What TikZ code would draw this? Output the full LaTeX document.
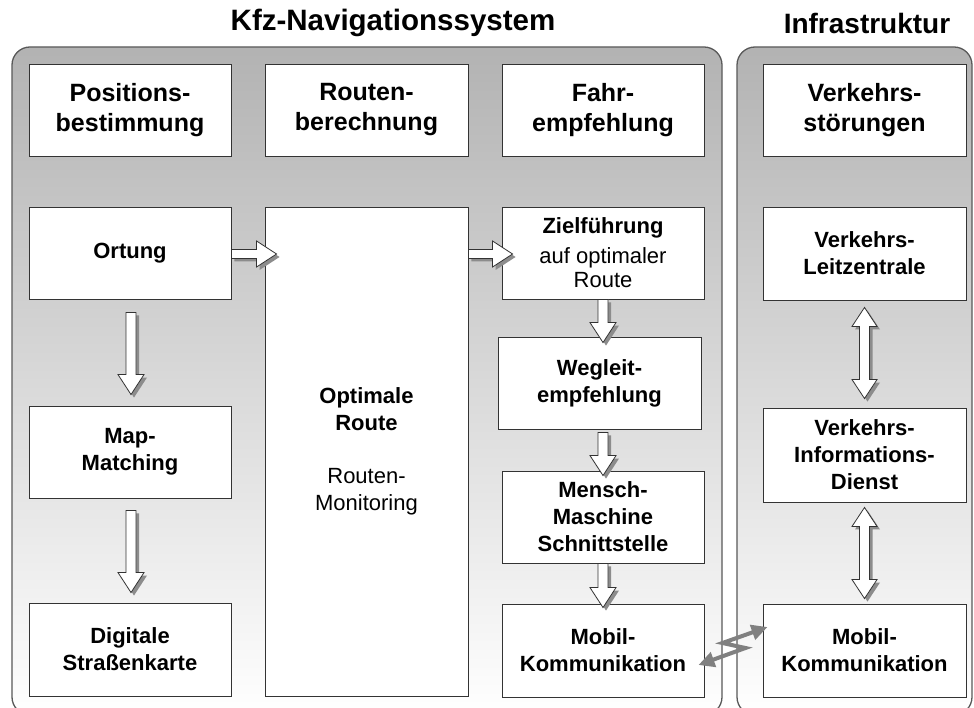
\documentclass[tikz,border=0pt]{standalone}
\usepackage{fontspec}
\setmainfont{Liberation Sans}
\usetikzlibrary{calc,arrows.meta}
\tikzset{
  panel/.style={draw=black!65, line width=1.3pt, rounded corners=18pt, top color=gray!60, bottom color=white},
  box/.style={draw=black!80, line width=0.9pt, fill=white, inner sep=0pt, align=center},
  hbox/.style={box, font=\fontsize{25}{30}\selectfont\bfseries},
  bbox/.style={box, font=\fontsize{22}{27}\selectfont\bfseries},
  ttl/.style={font=\fontsize{28}{34}\selectfont\bfseries},
  shd/.style={fill=black!45},
  arw/.style={fill=white, draw=black!80, line width=0.8pt},
  bolt/.style={draw=black!50, line width=4pt, {Triangle[length=16pt,width=15pt]}-{Triangle[length=16pt,width=15pt]}}
}
% single down arrow: #1 shaft top, #2 tip
\newcommand\dnarrow[2]{%
  \foreach \s/\o in {shd/3pt, arw/0pt}{%
    \path[\s] let \p1=(#1), \p2=(#2) in
      (\x1-5pt+\o,\y1-\o) -- (\x1+5pt+\o,\y1-\o) -- (\x1+5pt+\o,\y2+20pt-\o) --
      (\x1+13pt+\o,\y2+20pt-\o) -- (\x1+\o,\y2-\o) -- (\x1-13pt+\o,\y2+20pt-\o) --
      (\x1-5pt+\o,\y2+20pt-\o) -- cycle;
  }}
% single right arrow: #1 shaft start, #2 tip
\newcommand\rtarrow[2]{%
  \foreach \s/\o in {shd/3pt, arw/0pt}{%
    \path[\s] let \p1=(#1), \p2=(#2) in
      (\x1+\o,\y1+4.5pt-\o) -- (\x2-20pt+\o,\y1+4.5pt-\o) -- (\x2-20pt+\o,\y1+13pt-\o) --
      (\x2+\o,\y1-\o) -- (\x2-20pt+\o,\y1-13pt-\o) -- (\x2-20pt+\o,\y1-4.5pt-\o) --
      (\x1+\o,\y1-4.5pt-\o) -- cycle;
  }}
% double vertical arrow: #1 top tip, #2 bottom tip
\newcommand\dvarrow[2]{%
  \foreach \s/\o in {shd/3pt, arw/0pt}{%
    \path[\s] let \p1=(#1), \p2=(#2) in
      (\x1+\o,\y1-\o) -- (\x1+12.5pt+\o,\y1-19pt-\o) -- (\x1+5pt+\o,\y1-19pt-\o) --
      (\x1+5pt+\o,\y2+19pt-\o) -- (\x1+12.5pt+\o,\y2+19pt-\o) -- (\x1+\o,\y2-\o) --
      (\x1-12.5pt+\o,\y2+19pt-\o) -- (\x1-5pt+\o,\y2+19pt-\o) -- (\x1-5pt+\o,\y1-19pt-\o) --
      (\x1-12.5pt+\o,\y1-19pt-\o) -- cycle;
  }}
\begin{document}
\begin{tikzpicture}[x=1pt,y=-1pt]
\useasboundingbox (0,0) rectangle (974,708);
\clip (0,0) rectangle (974,708);
\fill[white] (0,0) rectangle (974,708);

% panels
\path[panel] (12,47) rectangle (722,715);
\path[panel] (737,47) rectangle (972,715);

% titles
\node[ttl, font=\fontsize{29.5}{34}\selectfont\bfseries] (t1) at (393,23) {Kfz-Navigationssystem};
\node[ttl] (t2) at (867,23) {Infrastruktur};

% header row
\node[hbox, minimum width=202pt, minimum height=92pt] (h1) at (130,110) {Positions-\\bestimmung};
\node[hbox, minimum width=203pt, minimum height=92pt] (h2) at (366.5,110) {Routen-\\berechnung};
\node[hbox, minimum width=202pt, minimum height=92pt] (h3) at (603,110) {Fahr-\\empfehlung};
\node[hbox, minimum width=203pt, minimum height=92pt] (h4) at (864.5,110) {Verkehrs-\\störungen};

% left column
\node[bbox, minimum width=202pt, minimum height=92pt] (ort) at (130,253) {Ortung};
\node[bbox, minimum width=202pt, minimum height=92pt] (map) at (130,452) {Map-\\Matching};
\node[bbox, minimum width=202pt, minimum height=93pt] (dig) at (130,649.5) {Digitale\\Straßenkarte};

% route column
\node[bbox, minimum width=203pt, minimum height=489pt] (opt) at (366.5,451.5)
  {Optimale\\Route\\[26pt]{\mdseries Routen-}\\{\mdseries Monitoring}};

% guidance column
\node[bbox, minimum width=202pt, minimum height=92pt] (ziel) at (603,253)
  {Zielführung\\[3pt]{\mdseries auf optimaler}\\[-3pt]{\mdseries Route}};
\node[bbox, minimum width=203pt, minimum height=92pt] (weg) at (599.5,383) {Wegleit-\\empfehlung};
\node[bbox, minimum width=202pt, minimum height=92pt] (mmi) at (603,517) {Mensch-\\Maschine\\Schnittstelle};
\node[bbox, minimum width=202pt, minimum height=93pt] (mobl) at (603,650.5) {Mobil-\\Kommunikation};

% infrastructure column
\node[bbox, minimum width=203pt, minimum height=93pt] (leit) at (864.5,253.5) {Verkehrs-\\Leitzentrale};
\node[bbox, minimum width=203pt, minimum height=94pt] (info) at (864.5,455) {Verkehrs-\\Informations-\\Dienst};
\node[bbox, minimum width=203pt, minimum height=93pt] (mobr) at (864.5,650.5) {Mobil-\\Kommunikation};

% block arrows
\dnarrow{$(ort.south)+(1,13)$}{$(map.north)+(1,-11)$}
\dnarrow{$(map.south)+(1,12)$}{$(dig.north)+(1,-10)$}
\dnarrow{$(ziel.south)+(0,0)$}{$(weg.north)+(3.5,6)$}
\dnarrow{$(weg.south)+(3.5,3)$}{$(mmi.north)+(0,5)$}
\dnarrow{$(mmi.south)+(0,0)$}{$(mobl.north)+(0,4)$}
\rtarrow{$(ort.east)+(0,1)$}{$(opt.west |- ort.east)+(12,1)$}
\rtarrow{$(opt.east |- ziel.west)+(0,1)$}{$(ziel.west)+(11,1)$}
\dvarrow{$(leit.south)+(0,7)$}{$(info.north)+(0,-9)$}
\dvarrow{$(info.south)+(0,5)$}{$(mobr.north)+(0,-5)$}

% radio link
\coordinate (la) at ($(mobl.east)+(-6,14.5)$);
\coordinate (lb) at ($(mobl.east)+(41,-2.5)$);
\coordinate (lc) at ($(mobl.east)+(18,-7.5)$);
\coordinate (ld) at ($(mobr.west)+(5,-23.5)$);
\draw[bolt] (la) -- (lb) -- (lc) -- (ld);
\end{tikzpicture}
\end{document}
